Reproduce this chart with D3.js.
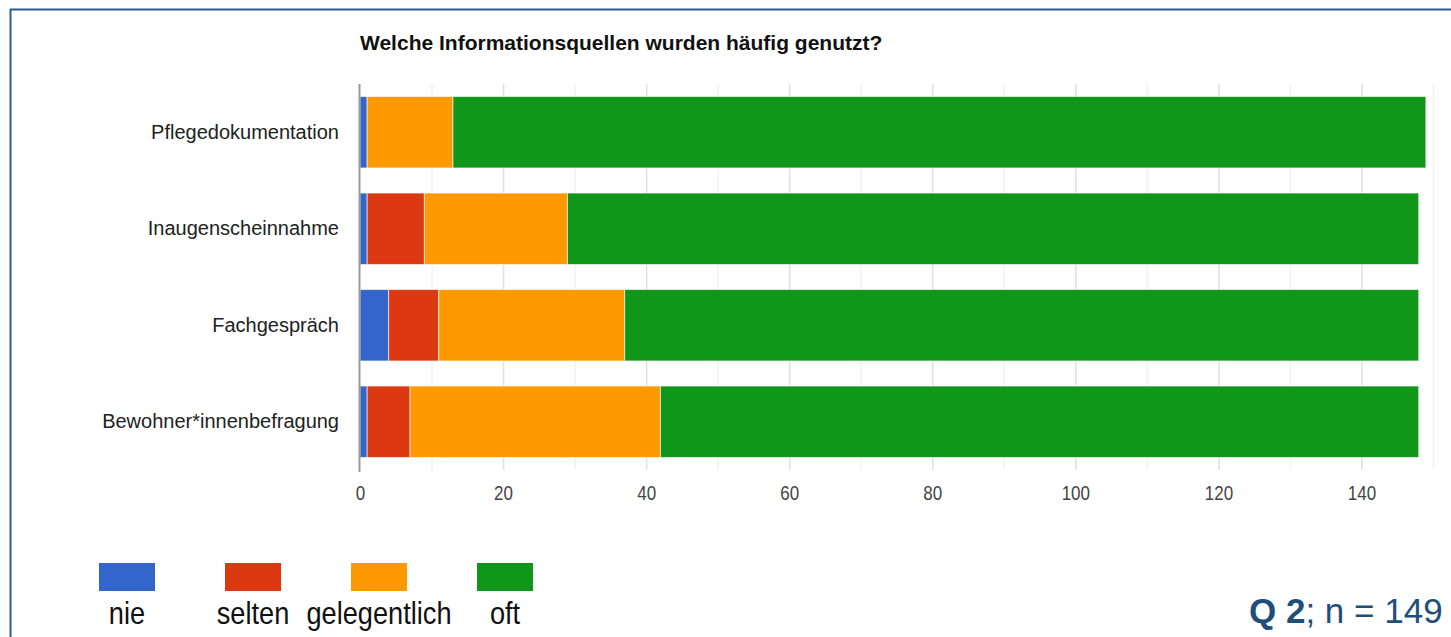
<!DOCTYPE html>
<html>
<head>
<meta charset="utf-8">
<script src="https://cdn.jsdelivr.net/npm/d3@7"></script>
<style>
  body { margin: 0; background: #fff; }
  svg { display: block; font-family: "Liberation Sans", Arial, sans-serif; }
</style>
</head>
<body>
<svg id="chart" width="1451" height="637"></svg>
<script>
const categories = ["Pflegedokumentation", "Inaugenscheinnahme", "Fachgespräch", "Bewohner*innenbefragung"];
const seriesNames = ["nie", "selten", "gelegentlich", "oft"];
const nie = [1, 1, 4, 1];
const selten = [0, 8, 7, 6];
const gelegentlich = [12, 20, 26, 35];
const oft = [136, 119, 111, 106];
const colors = ["#3366cc", "#dc3912", "#ff9900", "#109618"];
const xTicks = [0, 20, 40, 60, 80, 100, 120, 140];
const title = "Welche Informationsquellen wurden häufig genutzt?";

const svg = d3.select("#chart");

// slide frame
svg.append("line").attr("x1", 10).attr("x2", 1451).attr("y1", 9.5).attr("y2", 9.5)
  .attr("stroke", "#2f5b8e").attr("stroke-width", 2);
svg.append("line").attr("x1", 10.5).attr("x2", 10.5).attr("y1", 9).attr("y2", 637)
  .attr("stroke", "#2f5b8e").attr("stroke-width", 2);

const table = categories.map((c, i) => ({
  cat: c, nie: nie[i], selten: selten[i], gelegentlich: gelegentlich[i], oft: oft[i]
}));
const stacked = d3.stack().keys(seriesNames)(table);

const x = d3.scaleLinear().domain([0, 150]).range([360, 1433]);
const y = d3.scaleBand().domain(categories).range([84, 470]).paddingInner(0.26).paddingOuter(0.13);

// gridlines
svg.append("g").attr("class", "grid")
  .selectAll("line")
  .data(d3.range(10, 151, 10))
  .join("line")
  .attr("x1", (d) => x(d) + 0.5)
  .attr("x2", (d) => x(d) + 0.5)
  .attr("y1", 84)
  .attr("y2", 470)
  .attr("stroke", (d) => (d % 20 === 0 ? "#e0e0e0" : "#f2f2f2"))
  .attr("stroke-width", 1.5);

// bars
svg.append("g")
  .selectAll("g")
  .data(stacked)
  .join("g")
  .attr("fill", (d, i) => colors[i])
  .selectAll("rect")
  .data((d) => d)
  .join("rect")
  .attr("x", (d) => x(d[0]))
  .attr("y", (d) => y(d.data.cat))
  .attr("width", (d) => Math.max(0, x(d[1]) - x(d[0])))
  .attr("height", y.bandwidth())
  .attr("stroke", "#ffffff")
  .attr("stroke-opacity", 0.6)
  .attr("stroke-width", 1);

// baseline
svg.append("line").attr("x1", 359.5).attr("x2", 359.5).attr("y1", 84).attr("y2", 472)
  .attr("stroke", "#999").attr("stroke-width", 2);

// x axis (text looks a bit condensed in the original)
const xAxis = svg.append("g")
  .attr("transform", "translate(0,470)")
  .call(d3.axisBottom(x).tickValues(xTicks).tickSize(0).tickPadding(16));
xAxis.select(".domain").remove();
xAxis.selectAll("text")
  .attr("font-size", 20)
  .attr("fill", "#444")
  .attr("font-family", "'Liberation Sans', Arial, sans-serif")
  .attr("transform", "scale(0.85,1)");

// y axis labels
const yAxis = svg.append("g")
  .attr("transform", "translate(339,0)")
  .call(d3.axisLeft(y).tickSize(0).tickPadding(0));
yAxis.select(".domain").remove();
yAxis.selectAll("text")
  .attr("font-size", 20)
  .attr("fill", "#222")
  .attr("font-family", "'Liberation Sans', Arial, sans-serif");

// title
svg.append("text")
  .attr("x", 360)
  .attr("y", 50)
  .attr("font-size", 21)
  .attr("font-weight", "bold")
  .attr("fill", "#111")
  .text(title);

// legend
const legendX = [99, 225, 351, 477];
const legend = svg.append("g").selectAll("g")
  .data(seriesNames)
  .join("g")
  .attr("transform", (d, i) => `translate(${legendX[i]},563)`);
legend.append("rect")
  .attr("width", 56)
  .attr("height", 28)
  .attr("fill", (d, i) => colors[i]);
legend.append("text")
  .attr("transform", "translate(28,61) scale(0.85,1)")
  .attr("text-anchor", "middle")
  .attr("font-size", 32)
  .attr("fill", "#111")
  .text((d) => d);

// footnote
const note = svg.append("text")
  .attr("x", 1249)
  .attr("y", 623)
  .attr("font-size", 35)
  .attr("fill", "#1f4e79");
note.append("tspan").attr("font-weight", "bold").text("Q 2");
note.append("tspan").text("; n = 149");
</script>
</body>
</html>
